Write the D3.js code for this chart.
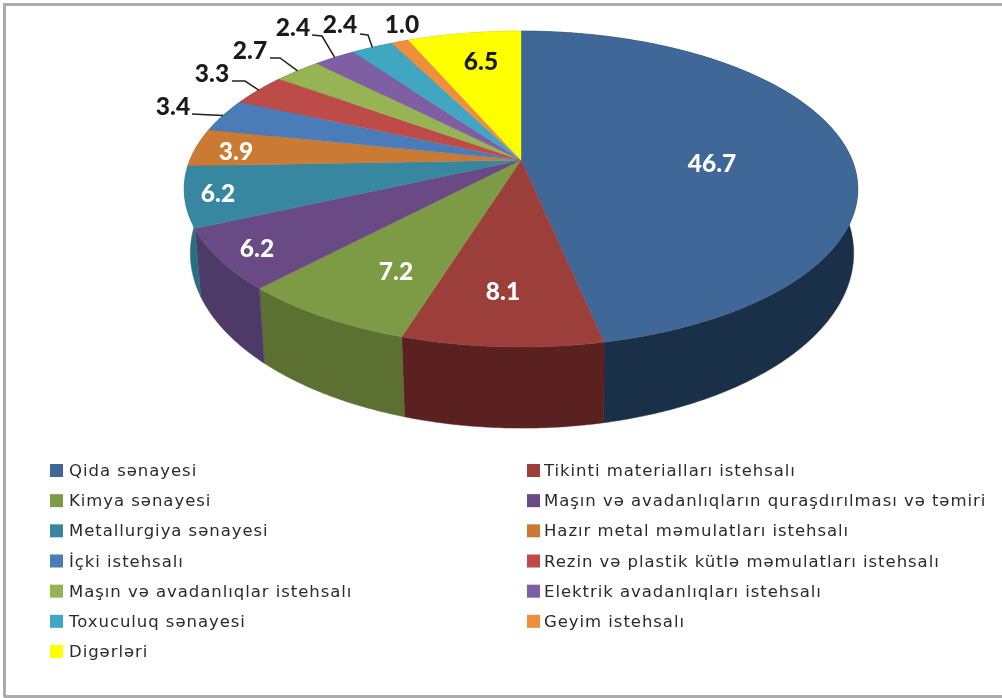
<!DOCTYPE html>
<html><head><meta charset="utf-8">
<style>html,body{margin:0;padding:0;background:#fff;overflow:hidden}svg{display:block;filter:blur(0.5px)}</style>
<script src="https://cdn.jsdelivr.net/npm/d3@7"></script></head><body>
<script>
const categories = ["Qida sənayesi","Tikinti materialları istehsalı","Kimya sənayesi","Maşın və avadanlıqların quraşdırılması və təmiri","Metallurgiya sənayesi","Hazır metal məmulatları istehsalı","İçki istehsalı","Rezin və plastik kütlə məmulatları istehsalı","Maşın və avadanlıqlar istehsalı","Elektrik avadanlıqları istehsalı","Toxuculuq sənayesi","Geyim istehsalı","Digərləri"];
const values = [46.7,8.1,7.2,6.2,6.2,3.9,3.4,3.3,2.7,2.4,2.4,1.0,6.5];
const topColors = ["#3f6797","#9c3f3b","#7d9a45","#694a85","#36879f","#cb7a33","#4a7db8","#bd4b47","#97b454","#7f5fa3","#41a6c2","#ee8f3d","#ffff00"];
const wallColors = ["#1a2f48","#5a2120","#5c7031","#4e3a68","#2a6e83","#8f5522","#2f5580","#80312f","#6a8038","#57406f","#2b7488","#a8642a","#b3b300"];
const labelPositions = [[712,163],[503,291],[396,271],[257,248],[218,193],[236,151],[173,106],[212,73],[250,50],[293,27],[340,24],[402,24],[481,61]];
const labelColors = ["#fff","#fff","#fff","#fff","#fff","#fff","#1a1a1a","#1a1a1a","#1a1a1a","#1a1a1a","#1a1a1a","#1a1a1a","#1a1a1a"];
const leaderStarts = {6:[[192,114],[212,115]],7:[[232,81],[245,81]],8:[[270,58],[280,58]],9:[[312,35],[322,36]],10:[[360,34],[368,35]]};

const W=1002,H=698;
const svg=d3.select("body").append("svg").attr("width",W).attr("height",H).attr("viewBox",`0 0 ${W} ${H}`);
const P=0.184;
const topDisc={cx:521,cy:160,a:331,b:152.6};
const lowDisc={cx:522,cy:221,a:326,b:169};
const project=(d,r,t)=>{const u=r*Math.sin(t),v=-r*Math.cos(t),k=1-P*v;return [d.cx+d.a*u/k,d.cy+d.b*v/k];};
const arcs=d3.pie().sort(null).startAngle(0).endAngle(2*Math.PI)(values);
const samples=(s,e)=>{const n=Math.max(2,Math.ceil((e-s)/0.01));return d3.range(n+1).map(i=>s+(e-s)*i/n);};
const line=d3.line();

// frame
svg.append("rect").attr("width",W).attr("height",H).attr("fill","#fff");
[[4,4.5,W,4.5],[4.5,3,4.5,697],[4,696.5,W,696.5]].forEach(l=>svg.append("line").attr("x1",l[0]).attr("y1",l[1]).attr("x2",l[2]).attr("y2",l[3]).attr("stroke","#ababab").attr("stroke-width",3));

// side walls
svg.append("g").selectAll("path").data(arcs).join("path")
 .attr("d",d=>{const ts=samples(d.startAngle,d.endAngle);
   return line(ts.map(t=>project(topDisc,1,t)).concat(ts.slice().reverse().map(t=>project(lowDisc,1,t))))+"Z";})
 .attr("fill",(d,i)=>wallColors[i]).attr("stroke",(d,i)=>wallColors[i]).attr("stroke-width",0.5);

// top face
svg.append("g").selectAll("path").data(arcs).join("path")
 .attr("d",d=>line([[topDisc.cx,topDisc.cy]].concat(samples(d.startAngle,d.endAngle).map(t=>project(topDisc,1,t))))+"Z")
 .attr("fill",(d,i)=>topColors[i]).attr("stroke",(d,i)=>topColors[i]).attr("stroke-width",0.4);

// leaders
Object.keys(leaderStarts).forEach(k=>{const a=arcs[k];
  const pts=leaderStarts[k].concat([project(topDisc,1,(a.startAngle+a.endAngle)/2)]);
  svg.append("path").attr("d",line(pts)).attr("fill","none").attr("stroke","#222").attr("stroke-width",1.5);});

// value labels
svg.append("g").selectAll("text").data(values).join("text")
 .attr("x",(d,i)=>labelPositions[i][0]).attr("y",(d,i)=>labelPositions[i][1]+8.5)
 .attr("text-anchor","middle").attr("font-family","Lato, 'Open Sans', sans-serif").attr("font-weight",900).attr("font-size",24.5)
 .attr("fill",(d,i)=>labelColors[i]).text(d=>d.toFixed(1));

// legend
const rowY=d3.scalePoint().domain(d3.range(7)).range([470,651]);
const leg=svg.append("g").selectAll("g").data(categories).join("g")
 .attr("transform",(d,i)=>`translate(${i%2?527:50},${rowY(Math.floor(i/2))})`);
leg.append("rect").attr("x",0).attr("y",-6).attr("width",13).attr("height",13).attr("fill",(d,i)=>topColors[i]);
leg.append("text").attr("x",(d,i)=>i%2?17:19).attr("y",6).attr("font-family","'DejaVu Sans', sans-serif").attr("font-size",16.5).attr("letter-spacing",0.95).attr("fill","#2a2a2a").text(d=>d);
</script></body></html>
